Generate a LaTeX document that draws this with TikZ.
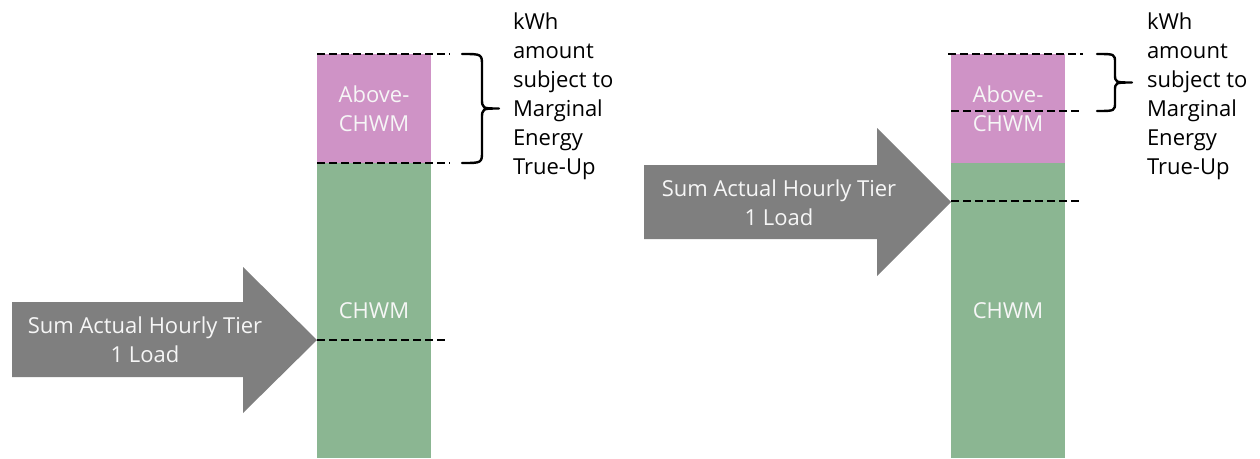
\documentclass[tikz,border=0pt]{standalone}
\usepackage{fontspec}
\setmainfont{Open Sans}
\definecolor{abvfill}{RGB}{207,147,198}
\definecolor{hwmfill}{RGB}{139,182,146}
\definecolor{arrowgray}{RGB}{127,127,127}
\definecolor{lighttext}{RGB}{246,246,246}
\begin{document}
\begin{tikzpicture}[x=1pt,y=-1pt,
  every node/.style={inner sep=0pt, outer sep=0pt},
  txt/.style={font=\fontsize{22}{29}\selectfont},
  intxt/.style={txt, text=lighttext, align=center},
  abvbar/.style={fill=abvfill, minimum width=114pt, anchor=north west},
  hwmbar/.style={fill=hwmfill, minimum width=114pt, anchor=north west},
  levelline/.style={line width=2.5pt, dash pattern=on 7.5pt off 4.5pt},
  bracepath/.style={line width=2.4pt, line cap=round, line join=round},
  fatarrow/.style={fill=arrowgray},
]
\useasboundingbox (0,0) rectangle (1260,458);

% ---------- left panel ----------
\node[hwmbar, minimum height=295pt] (hwmL) at (317,163) {};
\node[abvbar, minimum height=109pt] (abvL) at (317,54) {};
\fill[fatarrow] (12,302) -- (243,302) -- (243,267) -- (317,340)
  -- (243,413) -- (243,377) -- (12,377) -- cycle;
\coordinate (tipL) at (317,340);

\node[intxt, anchor=north] (abvtxtL) at (374,85.5) {Above-\\CHWM};
\node[intxt, anchor=north] (hwmtxtL) at (374,302.5) {CHWM};
\node[intxt, anchor=north] (loadL) at (145,316.5) {Sum Actual Hourly Tier\\1 Load};

\draw[levelline] (abvL.north west) -- ++(133,0);
\draw[levelline] (abvL.south west) -- ++(133,0);
\draw[levelline] (tipL) -- ++(131,0);

\draw[bracepath] (462,54) .. controls (482,54) .. (482,66) -- (482,98)
  .. controls (482,108.5) .. (499,108.5)
  .. controls (482,108.5) .. (482,119) -- (482,151)
  .. controls (482,163) .. (462,163);
\node[txt, align=left, anchor=north west] (noteL) at (513,12.5)
  {kWh\\amount\\subject to\\Marginal\\Energy\\True-Up};

% ---------- right panel ----------
\node[hwmbar, minimum height=295pt] (hwmR) at (951,163) {};
\node[abvbar, minimum height=109pt] (abvR) at (951,54) {};
\fill[fatarrow] (644,165) -- (877,165) -- (877,128) -- (951,202)
  -- (877,276) -- (877,239) -- (644,239) -- cycle;
\coordinate (tipR) at (951,201);
\coordinate (midR) at (951,111);

\node[intxt, anchor=north] (abvtxtR) at (1008,85.5) {Above-\\CHWM};
\node[intxt, anchor=north] (hwmtxtR) at (1008,302.5) {CHWM};
\node[intxt, anchor=north] (loadR) at (779,179.5) {Sum Actual Hourly Tier\\1 Load};

\draw[levelline] ([xshift=-3pt]abvR.north west) -- ++(135,0);
\draw[levelline] (midR) -- ++(132,0);
\draw[levelline] (tipR) -- ++(132,0);

\draw[bracepath] (1097,54) .. controls (1115,54) .. (1115,63) -- (1115,74)
  .. controls (1115,82.5) .. (1132,82.5)
  .. controls (1115,82.5) .. (1115,91) -- (1115,102)
  .. controls (1115,111) .. (1097,111);
\node[txt, align=left, anchor=north west] (noteR) at (1147,12.5)
  {kWh\\amount\\subject to\\Marginal\\Energy\\True-Up};
\end{tikzpicture}
\end{document}
